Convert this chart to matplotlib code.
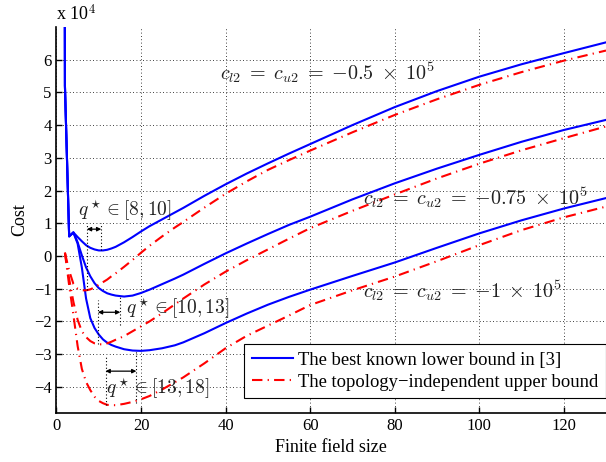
import numpy as np
import matplotlib.pyplot as plt

plt.rcParams['font.family'] = ['Liberation Serif', 'DejaVu Serif']
plt.rcParams['mathtext.fontset'] = 'cm'

# %% data (cost in units of 1e4)
q_lower = [1, 2, 3, 4, 5, 6, 7, 8, 9, 10, 11, 12, 13, 14, 16, 18, 20, 22, 25, 28, 30,
           35, 40, 45, 50, 55, 60, 70, 80, 90, 100, 110, 120, 130]
q_upper = [2, 3, 4, 5, 6, 7, 8, 9, 10, 11, 12, 13, 14, 16, 18, 20, 22, 25, 28, 30,
           35, 40, 45, 50, 55, 60, 70, 80, 90, 100, 110, 120, 130]

lower_05 = [100, 5.2, 0.6, 0.72, 0.58, 0.45, 0.33, 0.25, 0.2, 0.17, 0.17, 0.19, 0.23, 0.28,
            0.42, 0.58, 0.75, 0.91, 1.12, 1.33, 1.47,
            1.84, 2.19, 2.52, 2.83, 3.13, 3.42, 4.0, 4.55, 5.04, 5.48, 5.86, 6.2, 6.53]
lower_075 = [100, 5.2, 0.6, 0.72, 0.42, 0.02, -0.35, -0.62, -0.83, -0.98, -1.07, -1.14, -1.18, -1.21,
             -1.24, -1.21, -1.13, -1.03, -0.86, -0.69, -0.57,
             -0.24, 0.08, 0.38, 0.67, 0.95, 1.2, 1.73, 2.22, 2.67, 3.09, 3.49, 3.85, 4.16]
lower_1 = [100, 5.2, 0.6, 0.72, 0.38, -0.35, -1.3, -1.9, -2.2, -2.4, -2.55, -2.65, -2.72, -2.77,
           -2.85, -2.89, -2.9, -2.88, -2.82, -2.73, -2.64,
           -2.36, -2.05, -1.76, -1.49, -1.25, -1.03, -0.61, -0.2, 0.25, 0.69, 1.09, 1.45, 1.77]

upper_05 = [0.1, -0.45, -0.85, -1.0, -1.05, -1.05, -1.02, -0.96, -0.88, -0.8, -0.72, -0.62, -0.53,
            -0.33, -0.12, 0.1, 0.31, 0.6, 0.87, 1.04,
            1.48, 1.9, 2.28, 2.63, 2.93, 3.22, 3.78, 4.31, 4.79, 5.23, 5.62, 5.97, 6.28]
upper_075 = [0.1, -0.7, -1.4, -1.95, -2.3, -2.48, -2.6, -2.67, -2.7, -2.7, -2.67, -2.62, -2.56,
             -2.45, -2.3, -2.15, -2.0, -1.75, -1.48, -1.3,
             -0.87, -0.48, -0.13, 0.2, 0.53, 0.85, 1.38, 1.88, 2.37, 2.82, 3.23, 3.6, 3.96]
upper_1 = [0.1, -0.9, -1.8, -2.75, -3.45, -3.85, -4.1, -4.3, -4.43, -4.5, -4.55, -4.56, -4.56,
           -4.52, -4.46, -4.38, -4.28, -4.08, -3.86, -3.71,
           -3.28, -2.82, -2.44, -2.13, -1.82, -1.5, -1.05, -0.63, -0.16, 0.33, 0.79, 1.18, 1.51]

# q* ranges: arrow span, arrow height, dotted guide lines (x, y0, y1)
arrow_x = [(7.2, 10.6), (9.8, 15.1), (11.6, 18.9)]
arrow_y = [0.82, -1.72, -3.52]
guides = [(7.2, -1.05, 1.0), (10.6, 0.17, 1.0),
          (9.8, -2.7, -1.35), (15.1, -2.1, -1.24),
          (11.6, -4.56, -3.05), (18.9, -4.5, -2.9)]

fig = plt.figure(figsize=(6.06, 4.62), dpi=100)
ax = fig.add_axes([0.0932, 0.106, 0.9068, 0.8356])

dash = (0, (5, 2.5, 0.6, 2.5))
lw = 1.5
l1, = ax.plot(q_lower, lower_05, color='#0000ff', lw=lw)
ax.plot(q_lower, lower_075, color='#0000ff', lw=lw)
ax.plot(q_lower, lower_1, color='#0000ff', lw=lw)
l2, = ax.plot(q_upper, upper_05, color='#ff0000', lw=lw, ls=dash)
ax.plot(q_upper, upper_075, color='#ff0000', lw=lw, ls=dash)
ax.plot(q_upper, upper_1, color='#ff0000', lw=lw, ls=dash)

for gx, g0, g1 in guides:
    ax.plot([gx, gx], [g0, g1], color='k', lw=0.8, ls=(0, (1, 2)))
for (a, b), yy in zip(arrow_x, arrow_y):
    ax.annotate('', xy=(a, yy), xytext=(b, yy),
                arrowprops=dict(arrowstyle='<|-|>', color='k', lw=0.9,
                                mutation_scale=6, shrinkA=0, shrinkB=0))

tc = '#222222'
ax.text(5.0, 1.4, r'$q^\star \in [8,10]$', fontsize=14, va='center', color=tc)
ax.text(16.4, -1.62, r'$q^\star \in [10,13]$', fontsize=14, va='center', color=tc)
ax.text(11.7, -4.06, r'$q^\star \in [13,18]$', fontsize=14, va='center', color=tc)
ax.text(38.6, 5.6, r'$c_{l2} \;=\; c_{u2} \;=\; {-}0.5\;\times\;10^5$', fontsize=14.5, va='center', color=tc)
ax.text(72.6, 1.78, r'$c_{l2} \;=\; c_{u2} \;=\; {-}0.75\;\times\;10^5$', fontsize=14.5, va='center', color=tc)
ax.text(72.6, -1.07, r'$c_{l2} \;=\; c_{u2} \;=\; {-}1\;\times\;10^5$', fontsize=14.5, va='center', color=tc)

ax.set_xlim(0, 130)
ax.set_ylim(-4.8, 7)
ax.set_xticks(np.arange(0, 121, 20))
ax.set_yticks(np.arange(-4, 7, 1))
ax.tick_params(direction='in', labelsize=12, length=4, width=1)
ax.grid(True, color='k', ls=(0, (1, 3)), lw=0.6)
for s in ['top', 'right']:
    ax.spines[s].set_visible(False)
for s in ['left', 'bottom']:
    ax.spines[s].set_linewidth(1.2)

ax.set_xlabel('Finite field size', fontsize=13, labelpad=4)
ax.set_ylabel('Cost', fontsize=13, labelpad=4)
ax.text(0, 1.018, r'x 10$^4$', transform=ax.transAxes, fontsize=13, va='baseline')

leg = ax.legend([l1, l2], ['The best known lower bound in [3]',
                           'The topology\u2212independent upper bound'],
                loc='lower right', bbox_to_anchor=(1.0, 0.039), borderaxespad=0,
                fontsize=13.4, fancybox=False, framealpha=1, edgecolor='k',
                handlelength=2.2, handletextpad=0.3, labelspacing=0.25, borderpad=0.4)
leg.get_frame().set_linewidth(0.8)

fig.savefig('out.png', dpi=100)
